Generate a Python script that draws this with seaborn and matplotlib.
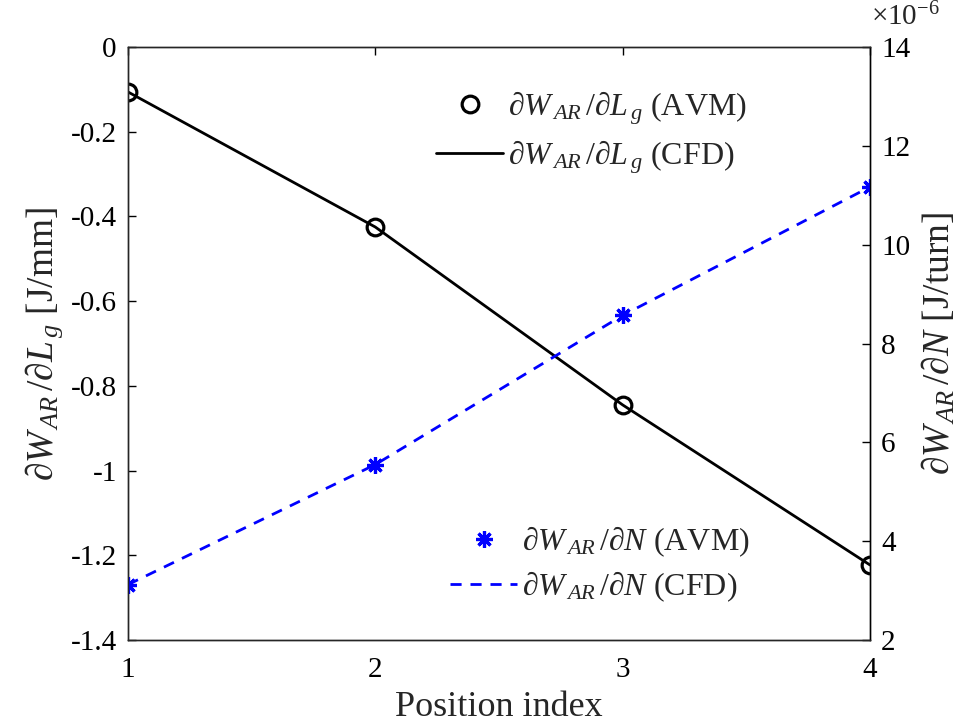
import matplotlib
matplotlib.use("Agg")
import matplotlib.pyplot as plt
import matplotlib.ticker as mticker
import seaborn as sns

# Sensitivities at each position index
position = [1, 2, 3, 4]
dW_dLg_avm = [-0.106, -0.425, -0.845, -1.223]   # J/mm
dW_dLg_cfd = [-0.106, -0.425, -0.845, -1.223]
dW_dN_avm = [3.12e-6, 5.55e-6, 8.57e-6, 11.17e-6]  # J/turn
dW_dN_cfd = [3.12e-6, 5.55e-6, 8.57e-6, 11.17e-6]

left_ticks = [0, -0.2, -0.4, -0.6, -0.8, -1, -1.2, -1.4]
right_ticks = [2e-6, 4e-6, 6e-6, 8e-6, 10e-6, 12e-6, 14e-6]

sns.set_theme(style="white")
plt.rcParams["font.family"] = ["Liberation Serif", "DejaVu Serif"]
plt.rcParams["mathtext.fontset"] = "custom"
plt.rcParams["mathtext.rm"] = "Liberation Serif"
plt.rcParams["mathtext.it"] = "Liberation Serif:italic"
plt.rcParams["mathtext.bf"] = "Liberation Serif:bold"
plt.rcParams["axes.unicode_minus"] = False

FS = 21
LFS = 23
axc = "#262626"

fig = plt.figure(figsize=(9.65, 7.27), dpi=100)
ax = fig.add_axes([0.1326, 0.1197, 0.769, 0.8156])
ax2 = ax.twinx()

lab_lg = r"$\partial W_{\,AR}\,/\partial L_{\,g}$"
lab_n = r"$\partial W_{\,AR}\,/\partial N$"

# Left axis: dW/dLg
sns.lineplot(x=position, y=dW_dLg_cfd, ax=ax, color="black", linewidth=2.0,
             label=lab_lg + " (CFD)", legend=False)
sns.lineplot(x=position, y=dW_dLg_avm, ax=ax, color="black", linestyle="",
             marker="o", markersize=12, markerfacecolor="none",
             markeredgecolor="black", markeredgewidth=2.3,
             label=lab_lg + " (AVM)", legend=False)

# Right axis: dW/dN
sns.lineplot(x=position, y=dW_dN_cfd, ax=ax2, color="blue", linewidth=2.0,
             linestyle=(0, (4, 3.2)),
             label=lab_n + " (CFD)", legend=False)
sns.lineplot(x=position, y=dW_dN_avm, ax=ax2, color="blue", linestyle="",
             marker=(8, 2, 0), markersize=12, markeredgecolor="blue",
             markeredgewidth=2.3,
             label=lab_n + " (AVM)", legend=False)

ax.set_xlim(1, 4)
ax.set_ylim(-1.4, 0)
ax.set_xticks(position)
ax.set_yticks(left_ticks)
ax.yaxis.set_major_formatter(mticker.FuncFormatter(lambda v, p: "%g" % round(v, 2)))
ax2.set_ylim(2e-6, 14e-6)
ax2.set_yticks(right_ticks)
ax2.yaxis.set_major_formatter(mticker.FuncFormatter(lambda v, p: "%g" % round(v * 1e6, 3)))
fig.text(0.903, 0.965, r"$\times10^{-6}$", fontsize=21, ha="left", va="baseline")

ax.tick_params(axis="both", direction="in", length=6, width=1.0, labelsize=FS,
               colors="black", top=True, pad=8)
ax.tick_params(axis="x", pad=12)
ax2.tick_params(axis="y", direction="in", length=6, width=1.0, labelsize=FS,
                colors="black", pad=8)

for a in (ax, ax2):
    for s in a.spines.values():
        s.set_color(axc)
        s.set_linewidth(1.0)
ax2.spines["right"].set_color("black")

ax.set_xlabel("Position index", fontsize=26, labelpad=6)
ax.set_ylabel(lab_lg + " [J/mm]", fontsize=27, labelpad=4)
ax2.set_ylabel(lab_n + " [J/turn]", fontsize=27, labelpad=7)

h1, l1 = ax.get_legend_handles_labels()
h2, l2 = ax2.get_legend_handles_labels()
order1 = [1, 0]
order2 = [1, 0]
leg1 = ax2.legend([h1[i] for i in order1], [l1[i] for i in order1],
                  loc="center left", bbox_to_anchor=(0.4286, 0.818),
                  bbox_transform=fig.transFigure, frameon=False,
                  fontsize=LFS, handlelength=2.1, handletextpad=0.15,
                  labelspacing=0.35, borderpad=0.2)
ax2.add_artist(leg1)
ax2.legend([h2[i] for i in order2], [l2[i] for i in order2],
           loc="center left", bbox_to_anchor=(0.4435, 0.224),
           bbox_transform=fig.transFigure, frameon=False,
           fontsize=LFS, handlelength=2.1, handletextpad=0.15,
           labelspacing=0.35, borderpad=0.2)

fig.savefig("out.png", dpi=100)
